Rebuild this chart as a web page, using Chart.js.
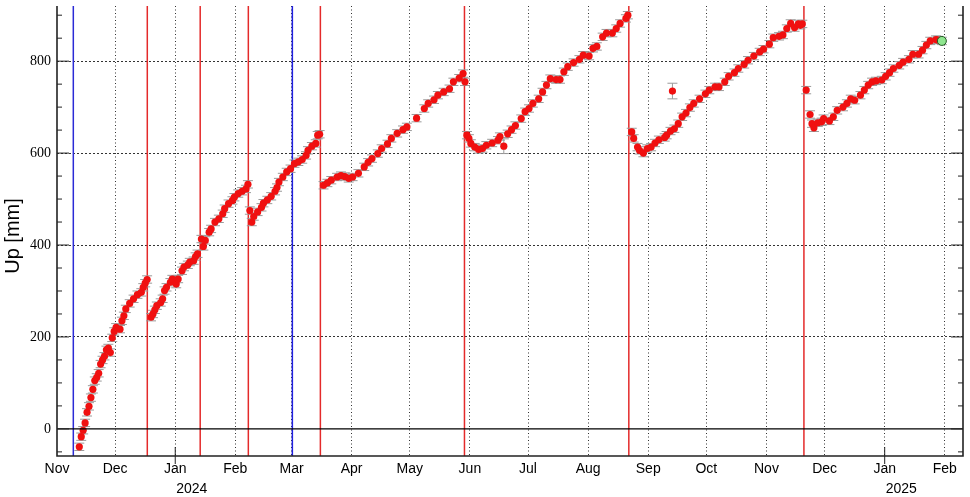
<!DOCTYPE html>
<html>
<head>
<meta charset="utf-8">
<script src="https://cdn.jsdelivr.net/npm/chart.js@4.4.1/dist/chart.umd.min.js"></script>
<style>
    html, body { margin: 0; padding: 0; background: #fff; }
</style>
</head>
<body>
<canvas id="chart-wrapper" width="970" height="497"></canvas>
<script>
// Daily solutions (date, Up in mm)
const dates = [
    '2023-11-12', '2023-11-13', '2023-11-14', '2023-11-15', '2023-11-16', '2023-11-17', '2023-11-18', '2023-11-19',
    '2023-11-20', '2023-11-21', '2023-11-22', '2023-11-23', '2023-11-24', '2023-11-25', '2023-11-26', '2023-11-27',
    '2023-11-28', '2023-11-29', '2023-11-30', '2023-12-01', '2023-12-03', '2023-12-04', '2023-12-05', '2023-12-06',
    '2023-12-08', '2023-12-10', '2023-12-12', '2023-12-14', '2023-12-15', '2023-12-16', '2023-12-17',
    '2023-12-19', '2023-12-20', '2023-12-21', '2023-12-22', '2023-12-24', '2023-12-25', '2023-12-26', '2023-12-27',
    '2023-12-29', '2023-12-30', '2023-12-31', '2024-01-01', '2024-01-02', '2024-01-04', '2024-01-05', '2024-01-07',
    '2024-01-08', '2024-01-10', '2024-01-11', '2024-01-12',
    '2024-01-14', '2024-01-15', '2024-01-16', '2024-01-18', '2024-01-19', '2024-01-21', '2024-01-23', '2024-01-25',
    '2024-01-26', '2024-01-28', '2024-01-30', '2024-01-31', '2024-02-02', '2024-02-04', '2024-02-06', '2024-02-07',
    '2024-02-08', '2024-02-09', '2024-02-10', '2024-02-12', '2024-02-14', '2024-02-15', '2024-02-17', '2024-02-19',
    '2024-02-21', '2024-02-22', '2024-02-23', '2024-02-25', '2024-02-27', '2024-02-29', '2024-03-02', '2024-03-04',
    '2024-03-06', '2024-03-08', '2024-03-09', '2024-03-11', '2024-03-13', '2024-03-14', '2024-03-15',
    '2024-03-17', '2024-03-19', '2024-03-21', '2024-03-24', '2024-03-26', '2024-03-28', '2024-03-30', '2024-04-01',
    '2024-04-04', '2024-04-07', '2024-04-09', '2024-04-11', '2024-04-14', '2024-04-16', '2024-04-19', '2024-04-21',
    '2024-04-24', '2024-04-27', '2024-04-29', '2024-05-04', '2024-05-08', '2024-05-10', '2024-05-13', '2024-05-15',
    '2024-05-18', '2024-05-21', '2024-05-23', '2024-05-26', '2024-05-28', '2024-05-29',
    '2024-05-30', '2024-05-31', '2024-06-01', '2024-06-03', '2024-06-05', '2024-06-07', '2024-06-09', '2024-06-12',
    '2024-06-15', '2024-06-16', '2024-06-18', '2024-06-20', '2024-06-22', '2024-06-24', '2024-06-27', '2024-06-29',
    '2024-07-01', '2024-07-03', '2024-07-06', '2024-07-08', '2024-07-10', '2024-07-12', '2024-07-15', '2024-07-17',
    '2024-07-19', '2024-07-21', '2024-07-24', '2024-07-27', '2024-07-29', '2024-08-01', '2024-08-03', '2024-08-05',
    '2024-08-08', '2024-08-10', '2024-08-13', '2024-08-15', '2024-08-17', '2024-08-20', '2024-08-21',
    '2024-08-23', '2024-08-24', '2024-08-26', '2024-08-27', '2024-08-29', '2024-08-31', '2024-09-02', '2024-09-04',
    '2024-09-06', '2024-09-09', '2024-09-10', '2024-09-12', '2024-09-13', '2024-09-14', '2024-09-16', '2024-09-18',
    '2024-09-20', '2024-09-22', '2024-09-24', '2024-09-27', '2024-09-30', '2024-10-02', '2024-10-05', '2024-10-07',
    '2024-10-10', '2024-10-12', '2024-10-15', '2024-10-17', '2024-10-20', '2024-10-22', '2024-10-25', '2024-10-28',
    '2024-10-30', '2024-11-02', '2024-11-04', '2024-11-07', '2024-11-09', '2024-11-11', '2024-11-13', '2024-11-15',
    '2024-11-17', '2024-11-18', '2024-11-19',
    '2024-11-21', '2024-11-23', '2024-11-24', '2024-11-25', '2024-11-27', '2024-11-29', '2024-11-30', '2024-12-03',
    '2024-12-05', '2024-12-07', '2024-12-10', '2024-12-12', '2024-12-14', '2024-12-16', '2024-12-19', '2024-12-21',
    '2024-12-23', '2024-12-25', '2024-12-27', '2024-12-30', '2025-01-01', '2025-01-03', '2025-01-05', '2025-01-08',
    '2025-01-10', '2025-01-13', '2025-01-15', '2025-01-18', '2025-01-20', '2025-01-22', '2025-01-24', '2025-01-27',
    '2025-01-28', '2025-01-30'
];
const upMm = [
    -39, -17, -3, 13, 36, 49, 68, 86,
    105, 112, 121, 141, 150, 158, 172, 176,
    166, 198, 212, 221, 217, 235, 246, 261,
    273, 283, 292, 297, 308, 317, 325,
    243, 250, 259, 268, 275, 283, 301, 308,
    319, 326, 323, 315, 326, 344, 352, 357,
    363, 366, 375, 381,
    413, 397, 410, 428, 435, 450, 457, 468,
    479, 490, 497, 504, 512, 517, 522, 532,
    475, 450, 462, 472, 482, 491, 498, 506,
    517, 525, 537, 548, 559, 566, 577, 581,
    586, 595, 606, 615, 621, 639, 641,
    530, 535, 541, 548, 551, 549, 545, 548,
    556, 570, 580, 588, 599, 610, 620, 632,
    643, 651, 657, 676, 697, 708, 716, 726,
    733, 740, 755, 763, 773, 755,
    639, 632, 621, 613, 608, 610, 617, 622,
    628, 636, 615, 642, 651, 660, 675, 690,
    697, 708, 718, 733, 748, 762, 760, 760,
    777, 788, 797, 804, 813, 811, 828, 832,
    853, 861, 861, 871, 882, 893, 900,
    646, 632, 613, 606, 600, 610, 613, 622,
    629, 634, 639, 648, 735, 653, 664, 679,
    687, 699, 708, 718, 729, 737, 744, 744,
    755, 767, 775, 784, 793, 802, 811, 820,
    826, 837, 851, 854, 857, 871, 882, 873,
    881, 878, 881,
    737, 684, 664, 655, 666, 668, 675, 670,
    679, 693, 700, 708, 718, 715, 726, 737,
    748, 755, 757, 759, 767, 775, 784, 791,
    798, 804, 815, 815, 824, 835, 844, 847,
    846, 844
];
const sigmaMm = 8;
const bigSigma = { '2024-06-18': 16, '2024-09-13': 17 };

// offsets / events (vertical lines)
const eventDates = [
    '2023-11-09T10:00', '2023-12-17T14:00', '2024-01-13T21:00', '2024-02-07T17:00', '2024-03-01T10:00',
    '2024-03-15T21:00', '2024-05-29T05:00', '2024-08-22T00:00', '2024-11-20T08:00'
];
const eventColors = ['#2b2bd6', '#e42a2a', '#e42a2a', '#e42a2a', '#2020e0', '#e42a2a', '#e42a2a', '#e42a2a', '#e42a2a'];

const monthTicks = [
    '2023-11-01', '2023-12-01', '2024-01-01', '2024-02-01', '2024-03-01', '2024-04-01', '2024-05-01', '2024-06-01',
    '2024-07-01', '2024-08-01', '2024-09-01', '2024-10-01', '2024-11-01', '2024-12-01', '2025-01-01', '2025-02-01'
];
const monthLabels = ['Nov', 'Dec', 'Jan', 'Feb', 'Mar', 'Apr', 'May', 'Jun', 'Jul', 'Aug', 'Sep', 'Oct', 'Nov', 'Dec', 'Jan', 'Feb'];
const yearTicks = ['2024-01-01', '2025-01-01'];
const yearLabels = ['2024', '2025'];
const yTicks = [0, 200, 400, 600, 800];

const origin = Date.parse('2023-11-01T00:00:00Z');
function dayOf(s) {
    const iso = s.length === 10 ? s + 'T00:00:00Z' : s + ':00Z';
    return (Date.parse(iso) - origin) / 86400000;
}

const points = dates.map((d, i) => ({ x: dayOf(d) + 0.5, y: upMm[i], s: bigSigma[d] || sigmaMm }));
const last = points.length - 1;

const eventLines = {
    id: 'eventLines',
    beforeDatasetsDraw: (chart) => {
        const { ctx, chartArea, scales } = chart;
        ctx.save();
        ctx.lineWidth = 1.5;
        eventDates.forEach((d, i) => {
            const x = scales.x.getPixelForValue(dayOf(d));
            ctx.strokeStyle = eventColors[i];
            ctx.beginPath();
            ctx.moveTo(x, chartArea.top);
            ctx.lineTo(x, chartArea.bottom);
            ctx.stroke();
        });
        ctx.restore();
    }
};

const errorBars = {
    id: 'errorBars',
    beforeDatasetsDraw: (chart) => {
        const { ctx, scales } = chart;
        ctx.save();
        ctx.strokeStyle = '#9a9a9a';
        ctx.lineWidth = 1;
        points.forEach(p => {
            const x = scales.x.getPixelForValue(p.x);
            const y1 = scales.y.getPixelForValue(p.y - p.s);
            const y2 = scales.y.getPixelForValue(p.y + p.s);
            ctx.beginPath();
            ctx.moveTo(x, y1); ctx.lineTo(x, y2);
            ctx.moveTo(x - 5, y1); ctx.lineTo(x + 5, y1);
            ctx.moveTo(x - 5, y2); ctx.lineTo(x + 5, y2);
            ctx.stroke();
        });
        ctx.restore();
    }
};

const frame = {
    id: 'frame',
    afterDraw: (chart) => {
        const { ctx, chartArea: a, scales } = chart;
        ctx.save();
        ctx.strokeStyle = '#000';
        // zero line
        const y0 = scales.y.getPixelForValue(0);
        ctx.lineWidth = 1.3;
        ctx.beginPath();
        ctx.moveTo(a.left, y0); ctx.lineTo(a.right, y0);
        ctx.stroke();
        // axes
        ctx.strokeStyle = '#222';
        ctx.lineWidth = 1.6;
        ctx.beginPath();
        ctx.moveTo(a.left, a.top); ctx.lineTo(a.left, a.bottom); ctx.lineTo(a.right, a.bottom); ctx.lineTo(a.right, a.top);
        ctx.stroke();
        // y ticks, both sides
        ctx.lineWidth = 1;
        ctx.beginPath();
        for (let v = -50; v <= 900; v += 50) {
            const y = scales.y.getPixelForValue(v);
            const len = v % 200 === 0 ? 12 : 5;
            ctx.moveTo(a.left, y); ctx.lineTo(a.left + len, y);
            ctx.moveTo(a.right, y); ctx.lineTo(a.right - len, y);
        }
        ctx.stroke();
        // year ticks and labels
        ctx.font = '14px "Liberation Sans", Arial, sans-serif';
        ctx.fillStyle = '#000';
        ctx.textAlign = 'left';
        ctx.textBaseline = 'middle';
        yearTicks.forEach((d, i) => {
            const x = scales.x.getPixelForValue(dayOf(d));
            ctx.beginPath();
            ctx.moveTo(x, a.bottom - 9); ctx.lineTo(x, a.bottom + 8);
            ctx.stroke();
            ctx.fillText(yearLabels[i], x + 1, 489);
        });
        // y title
        ctx.translate(18.5, 236);
        ctx.rotate(-Math.PI / 2);
        ctx.font = '20px "Liberation Sans", Arial, sans-serif';
        ctx.textAlign = 'center';
        ctx.textBaseline = 'alphabetic';
        ctx.fillText('Up [mm]', 0, 0);
        ctx.restore();
    }
};

const ctx = document.getElementById('chart-wrapper');
const myChart = new Chart(ctx, {
    type: 'scatter',
    data: {
        datasets: [{
            data: points,
            pointRadius: c => c.dataIndex === last ? 4.5 : 3.6,
            pointBackgroundColor: c => c.dataIndex === last ? '#8fe68f' : '#f01010',
            pointBorderColor: c => c.dataIndex === last ? '#235a23' : '#f01010',
            pointBorderWidth: c => c.dataIndex === last ? 1 : 0,
            showLine: false,
        }],
    },
    options: {
        responsive: false,
        animation: false,
        devicePixelRatio: 1,
        layout: { padding: { top: 6, right: 7, left: 0, bottom: 0 } },
        plugins: {
            legend: { display: false },
            tooltip: { enabled: false },
        },
        scales: {
            x: {
                type: 'linear',
                min: 0,
                max: 467.4,
                afterBuildTicks: s => { s.ticks = monthTicks.map(m => ({ value: dayOf(m) })); },
                afterFit: s => { s.height = 41; },
                ticks: {
                    callback: (v, i) => monthLabels[i],
                    autoSkip: false,
                    maxRotation: 0,
                    padding: 5,
                    color: '#000',
                    font: { family: '"Liberation Sans", Arial, sans-serif', size: 14 },
                },
                grid: {
                    color: c => c.index === 0 ? 'rgba(0,0,0,0)' : '#333',
                    lineWidth: 1,
                    drawTicks: false,
                },
                border: { display: false, dash: [1, 2.5] },
            },
            y: {
                min: -59,
                max: 920,
                afterBuildTicks: s => { s.ticks = yTicks.map(v => ({ value: v })); },
                afterFit: s => { s.width = 57; s.paddingTop = 0; s.paddingBottom = 0; },
                ticks: {
                    padding: 6,
                    color: '#000',
                    font: { family: '"Liberation Serif", "Times New Roman", serif', size: 14 },
                },
                grid: {
                    color: c => c.tick && c.tick.value === 0 ? 'rgba(0,0,0,0)' : '#333',
                    lineWidth: 1,
                    drawTicks: false,
                },
                border: { display: false, dash: [2, 2] },
            },
        },
    },
    plugins: [eventLines, errorBars, frame],
});
</script>
</body>
</html>
